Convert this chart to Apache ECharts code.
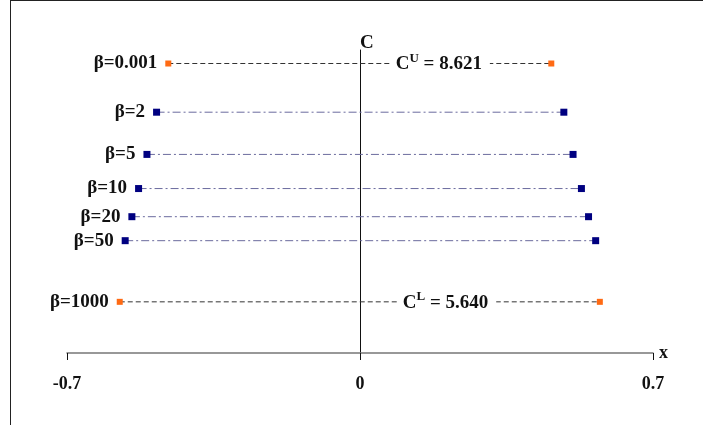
<!DOCTYPE html>
<html>
<head>
<meta charset="utf-8">
<script src="https://cdn.jsdelivr.net/npm/echarts@6/dist/echarts.min.js"></script>
<style>
html,body{margin:0;padding:0;background:#fff;}
#wrap{position:relative;width:703px;height:425px;}
#frame{position:absolute;left:10px;top:0px;width:693px;height:425px;border-left:1.5px solid #222;border-top:1.5px solid #222;box-sizing:border-box;pointer-events:none;}
#chart{position:absolute;left:0;top:0;width:703px;height:425px;}
</style>
</head>
<body>
<div id="wrap"><div id="chart"></div><div id="frame"></div></div>
<script>
// Data
const betaLabels = ['β=0.001', 'β=2', 'β=5', 'β=10', 'β=20', 'β=50', 'β=1000'];
const cValues    = [8.621, 8.012, 7.484, 7.057, 6.705, 6.405, 5.640];
const xLeft      = [-0.458, -0.486, -0.509, -0.529, -0.545, -0.561, -0.574];
const xRight     = [0.457, 0.487, 0.509, 0.529, 0.546, 0.563, 0.573];
const xTicks     = [-0.7, 0, 0.7];
const boundLabels = [
  {sup: 'U', value: '8.621', x: 0.193, c: 8.621},
  {sup: 'L', value: '5.640', x: 0.209, c: 5.640}
];

const serif = '"Liberation Serif", "Times New Roman", serif';
const isBound = i => i === 0 || i === betaLabels.length - 1;

const series = betaLabels.map((name, i) => {
  const bound = isBound(i);
  const s = {
    type: 'line',
    name: name,
    data: [
      {value: [xLeft[i], cValues[i]], label: {show: true, position: 'left', distance: 8, formatter: name,
        fontFamily: serif, fontWeight: 'bold', fontSize: 19, color: '#111'}},
      {value: [xRight[i], cValues[i]]}
    ],
    symbol: 'rect',
    symbolSize: bound ? 6 : 7,
    showSymbol: true,
    itemStyle: {color: bound ? '#ff6a13' : '#000080'},
    lineStyle: bound
      ? {color: '#333', width: 1, type: [5, 3]}
      : {color: '#6b6b9e', width: 1, type: [8, 3, 2, 3]},
    animation: false,
    z: 3
  };
  if (bound) {
    const b = boundLabels[i === 0 ? 0 : 1];
    s.markPoint = {
      symbol: 'rect', symbolSize: 1, itemStyle: {color: 'rgba(0,0,0,0)'},
      silent: true,
      data: [{coord: [b.x, b.c],
        label: {
          show: true, position: 'inside',
          formatter: 'C{s|' + b.sup + '}{m| = ' + b.value + '}',
          fontFamily: serif, fontWeight: 'bold', fontSize: 19, color: '#111',
          backgroundColor: '#fff', padding: [2, 8, 0, 4],
          rich: {
            s: {fontFamily: serif, fontWeight: 'bold', fontSize: 13, color: '#111', verticalAlign: 'top', padding: [0, 0, 12, 0]},
            m: {fontFamily: serif, fontWeight: 'bold', fontSize: 19, color: '#111'}
          }
        }
      }]
    };
  }
  return s;
});

const chart = echarts.init(document.getElementById('chart'), null, {renderer: 'canvas'});
chart.setOption({
  backgroundColor: '#fff',
  animation: false,
  grid: {left: 67, right: 50, top: 50, bottom: 72, containLabel: false},
  xAxis: {
    type: 'value', min: -0.7, max: 0.7, interval: 0.7,
    name: 'x', nameLocation: 'end', nameGap: 6,
    nameTextStyle: {fontFamily: serif, fontWeight: 'bold', fontSize: 18, color: '#111', verticalAlign: 'middle', padding: [0, 0, 8, 0]},
    axisLine: {show: true, onZero: false, lineStyle: {color: '#777', width: 1.5}},
    axisTick: {show: true, length: 7, lineStyle: {color: '#111', width: 1}},
    axisLabel: {fontFamily: serif, fontWeight: 'bold', fontSize: 18, color: '#111', margin: 22,
      formatter: v => xTicks.indexOf(+v.toFixed(1)) >= 0 ? String(+v.toFixed(1)) : ''},
    splitLine: {show: false}
  },
  yAxis: {
    type: 'value', min: 5, max: 8.79,
    name: 'C', nameLocation: 'end', nameGap: -3,
    nameTextStyle: {fontFamily: serif, fontWeight: 'bold', fontSize: 19, color: '#111', align: 'left', padding: [0, 0, 0, 0]},
    axisLine: {show: true, onZero: true, lineStyle: {color: '#111', width: 1}},
    axisTick: {show: false},
    axisLabel: {show: false},
    splitLine: {show: false}
  },
  series: series
});
</script>
</body>
</html>
